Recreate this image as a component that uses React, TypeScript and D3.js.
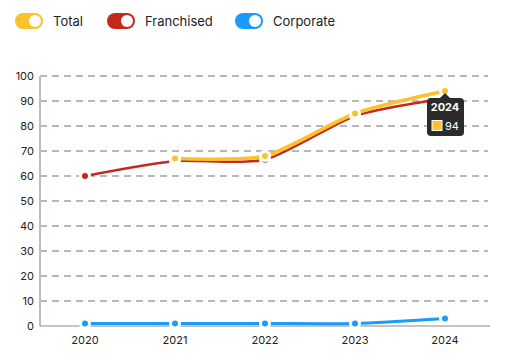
import React from "react";
import * as d3 from "d3";

const years = ["2020", "2021", "2022", "2023", "2024"];
const totalValues: (number | null)[] = [null, 67, 68, 85, 94];
const franchisedValues: (number | null)[] = [60, 66, 66.5, 84, 91];
const corporateValues: (number | null)[] = [1, 1, 1, 1, 3];
const yTicks = [0, 10, 20, 30, 40, 50, 60, 70, 80, 90, 100];
const seriesNames = ["Total", "Franchised", "Corporate"];
const seriesColors = ["#FDC22B", "#C42A1C", "#1A9BF9"];

const W = 512, H = 355;
const M = { left: 40, right: 22, top: 76, bottom: 29 };
const FONT = "Inter, 'Open Sans', sans-serif";

export default function App() {
  const x = d3.scaleBand().domain(years).range([M.left, W - M.right]);
  const y = d3.scaleLinear().domain([0, 100]).range([H - M.bottom, M.top]);
  const cx = (yr: string) => (x(yr) as number) + x.bandwidth() / 2;

  const series = [
    { name: "Corporate", values: corporateValues, color: seriesColors[2], w: 3 },
    { name: "Franchised", values: franchisedValues, color: seriesColors[1], w: 2.5 },
    { name: "Total", values: totalValues, color: seriesColors[0], w: 3.5 },
  ];

  const line = d3
    .line<{ yr: string; v: number | null }>()
    .defined((d) => d.v != null)
    .x((d) => cx(d.yr))
    .y((d) => y(d.v as number))
    .curve(d3.curveCardinal.tension(0.3));

  const legendX = [15, 107, 235];

  const tipYr = "2024";
  const tipV = totalValues[4] as number;
  const tx = cx(tipYr);
  const ty = y(tipV);

  return (
    <div style={{ position: "absolute", left: 0, top: 0 }}>
      <svg width={W} height={H} style={{ display: "block", fontFamily: FONT }}>
        {/* legend */}
        {seriesNames.map((n, i) => (
          <g key={n} transform={`translate(${legendX[i]},13)`}>
            <rect x={0} y={0} width={28} height={16} rx={8} fill={seriesColors[i]} />
            <circle cx={20} cy={8} r={6} fill="#fff" />
            <text x={38} y={12.5} fontSize={13} fill="#222">{n}</text>
          </g>
        ))}

        {/* grid */}
        {yTicks.map((t) => (
          <g key={t}>
            {t > 0 && (
              <line x1={M.left} x2={W - M.right - 2} y1={y(t)} y2={y(t)} stroke="#a0a0a0" strokeWidth={1.4} strokeDasharray="7,5" />
            )}
            <text x={34} y={y(t) + 4} textAnchor="end" fontSize={11} fill="#222">{t}</text>
          </g>
        ))}
        {/* axes */}
        <line x1={M.left} x2={M.left} y1={M.top} y2={H - M.bottom} stroke="#bdbdbd" strokeWidth={2} />
        <line x1={M.left} x2={W - M.right} y1={H - M.bottom} y2={H - M.bottom} stroke="#8a8a8a" strokeWidth={1.2} />
        {years.map((yr) => (
          <text key={yr} x={cx(yr)} y={344} textAnchor="middle" fontSize={11} fill="#222">{yr}</text>
        ))}

        {/* lines */}
        {series.map((s) => (
          <path
            key={s.name}
            d={line(years.map((yr, i) => ({ yr, v: s.values[i] }))) || ""}
            fill="none"
            stroke={s.color}
            strokeWidth={s.w}
            strokeLinecap="round"
          />
        ))}
        {/* points */}
        {series.map((s) =>
          years.map((yr, i) =>
            s.values[i] == null ? null : (
              <circle key={s.name + yr} cx={cx(yr)} cy={y(s.values[i] as number)} r={4.5} fill={s.color} stroke="#fff" strokeWidth={3} />
            )
          )
        )}

        {/* tooltip */}
        <g>
          <path d={`M${tx - 5},${ty + 7} L${tx},${ty + 2} L${tx + 5},${ty + 7} Z`} fill="#2b2b2b" />
          <rect x={tx - 18} y={ty + 7} width={37} height={38} rx={4} fill="#2b2b2b" />
          <text x={tx} y={ty + 20} textAnchor="middle" fontSize={11} fontWeight="bold" fill="#fff">{tipYr}</text>
          <rect x={tx - 13} y={ty + 29.5} width={10} height={10} fill={seriesColors[0]} stroke="#fff" strokeWidth={1} />
          <text x={tx} y={ty + 39} fontSize={11} fill="#fff">{tipV}</text>
        </g>
      </svg>
    </div>
  );
}
